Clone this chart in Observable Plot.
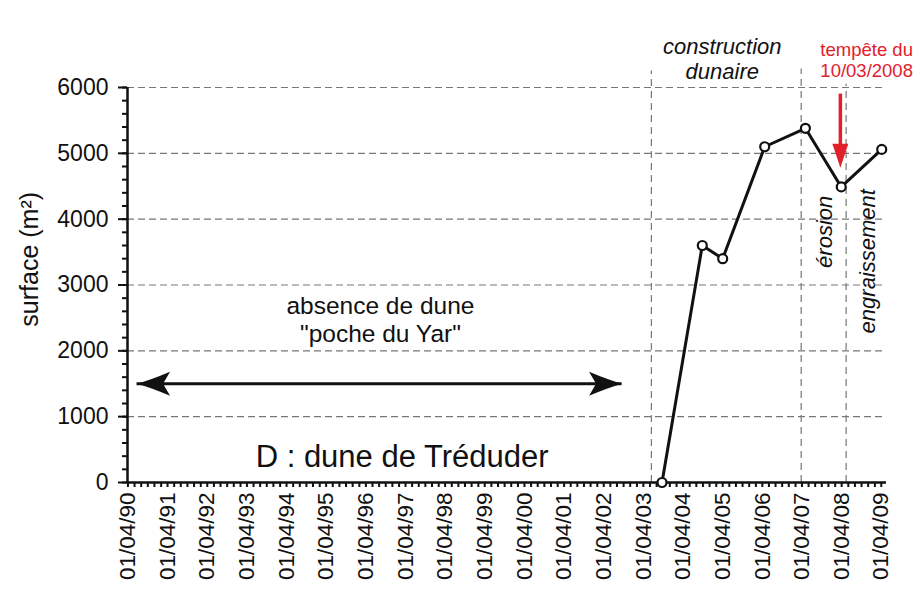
<!DOCTYPE html>
<html><head><meta charset="utf-8">
<script src="https://cdn.jsdelivr.net/npm/d3@7"></script>
<script src="https://cdn.jsdelivr.net/npm/@observablehq/plot@0.6"></script>
<style>body{margin:0;background:#fff} #chart{width:922px;height:591px}</style>
</head><body><div id="chart"></div>
<script>
// --- data ---
const surveyDates = ["2003-09-20","2004-09-25","2005-04-01","2006-04-23","2007-05-03","2008-03-28","2009-04-05"];
const surfaces = [0, 3600, 3400, 5100, 5380, 4490, 5060];

const tickLabels = ["01/04/90","01/04/91","01/04/92","01/04/93","01/04/94","01/04/95","01/04/96","01/04/97","01/04/98","01/04/99",
  "01/04/00","01/04/01","01/04/02","01/04/03","01/04/04","01/04/05","01/04/06","01/04/07","01/04/08","01/04/09"];
const yTicks = [0, 1000, 2000, 3000, 4000, 5000, 6000];
const gridValues = [1000, 2000, 3000, 4000, 5000, 6000];

const eventDates = ["2003-06-14","2007-03-25","2008-05-12"];
const eventTops = [6250, 6280, 6050];

const absenceStart = "1990-06-24", absenceEnd = "2002-09-17", absenceValue = 1500;
const stormDate = "2008-03-20", stormFrom = 5900, stormTo = 4781;

const notes = [
  {text: "construction\ndunaire", date: "2005-03-28", value: 6128, italic: true, size: 22, lh: 1.14, color: "#111"},
  {text: "tempête du\n10/03/2008", date: "2008-11-17", value: 6152, italic: false, size: 18.5, lh: 1.17, color: "#e2202c"},
  {text: "absence de dune\n\"poche du Yar\"", date: "1996-08-13", value: 2127, italic: false, size: 24.5, lh: 1.17, color: "#111"},
  {text: "D : dune de Tréduder", date: "1997-03-01", value: 228, italic: false, size: 31, lh: 1, color: "#111"}
];
const vnotes = [
  {text: "érosion", date: "2008-01-04", value: 3808},
  {text: "engraissement", date: "2009-02-06", value: 3361}
];

// --- build ---
const parse = d3.utcParse("%Y-%m-%d");
const data = surveyDates.map((d, i) => ({date: parse(d), surface: surfaces[i]}));
const tickDates = tickLabels.map(s => {
  const [dd, mm, yy] = s.split("/").map(Number);
  return new Date(Date.UTC((yy < 50 ? 2000 : 1900) + yy, mm - 1, dd));
});
const labelOf = new Map(tickDates.map((d, i) => [+d, tickLabels[i]]));
const minorX = d3.utcMonth.range(tickDates[0], d3.utcDay.offset(tickDates[tickDates.length - 1], 1), 2);
const minorY = d3.range(0, 6001, 200);
const xStart = parse("1990-03-28"), xEnd = parse("2009-05-19");
const events = eventDates.map((d, i) => ({date: parse(d), top: eventTops[i]}));
const noteData = notes.map(n => ({...n, date: parse(n.date)}));
const vnoteData = vnotes.map(n => ({...n, date: parse(n.date)}));

const barbed = {draw(ctx) {
  ctx.moveTo(0, 0);
  ctx.quadraticCurveTo(-14, -4, -33, -12);
  ctx.lineTo(-26, 0);
  ctx.lineTo(-33, 12);
  ctx.quadraticCurveTo(-14, 4, 0, 0);
  ctx.closePath();
}};
const triangle = {draw(ctx) {
  ctx.moveTo(0, 0);
  ctx.lineTo(-24, -8);
  ctx.lineTo(-24, 8);
  ctx.closePath();
}};

const font = "'Liberation Sans', Arial, Helvetica, sans-serif";
const chart = Plot.plot({
  width: 922, height: 591,
  marginLeft: 127, marginRight: 36, marginTop: 87, marginBottom: 109,
  style: {fontFamily: font, fontSize: "22px", color: "#111", background: "#fff"},
  x: {type: "utc", domain: [xStart, xEnd], label: null},
  y: {domain: [0, 6000], label: null},
  marks: [
    Plot.ruleY(gridValues, {stroke: "#777", strokeWidth: 1.2, strokeDasharray: "7,4"}),
    Plot.ruleX(events, {x: "date", y1: 0, y2: "top", stroke: "#777", strokeWidth: 1.2, strokeDasharray: "7,5"}),
    Plot.axisY({ticks: minorY, tickSize: 5, tickFormat: () => "", strokeWidth: 2, stroke: "#111", label: null}),
    Plot.axisY({ticks: yTicks, tickSize: 9, tickPadding: 10, strokeWidth: 2, stroke: "#111", fontSize: 23, label: null, tickFormat: d => String(d)}),
    Plot.axisX({ticks: minorX, tickSize: 5, tickFormat: () => "", strokeWidth: 2, stroke: "#111", label: null}),
    Plot.axisX({ticks: tickDates, tickSize: 0, tickPadding: 10, tickRotate: -90, fontSize: 22.5, label: null, tickFormat: d => labelOf.get(+d)}),
    Plot.ruleY([0], {stroke: "#111", strokeWidth: 2.5}),
    Plot.ruleX([xStart], {y1: 0, y2: 6000, stroke: "#111", strokeWidth: 2.5}),
    Plot.text(["surface (m²)"], {x: xStart, y: 3390, dx: -97.5, rotate: -90, fontSize: 25, textAnchor: "middle", lineAnchor: "middle", fill: "#111"}),
    // horizontal double arrow
    Plot.ruleY([absenceValue], {x1: parse(absenceStart), x2: parse(absenceEnd), stroke: "#111", strokeWidth: 3}),
    Plot.dot([{d: parse(absenceStart), r: 180}, {d: parse(absenceEnd), r: 0}], {x: "d", y: absenceValue, rotate: "r", symbol: barbed, fill: "#111", stroke: "none"}),
    // storm arrow
    Plot.ruleX([parse(stormDate)], {y1: stormFrom, y2: stormTo + 250, stroke: "#e2202c", strokeWidth: 3.5}),
    Plot.dot([parse(stormDate)], {x: d => d, y: stormTo, rotate: 90, symbol: triangle, fill: "#e2202c", stroke: "none"}),
    // series
    Plot.line(data, {x: "date", y: "surface", stroke: "#111", strokeWidth: 3, strokeLinejoin: "miter"}),
    Plot.dot(data, {x: "date", y: "surface", r: 4.5, fill: "#fff", stroke: "#111", strokeWidth: 2.2}),
    // notes
    ...noteData.map(n => Plot.text([n], {x: "date", y: "value", text: "text", fontSize: n.size, lineHeight: n.lh, lineAnchor: "bottom", textAnchor: "middle", fill: n.color, fontStyle: n.italic ? "italic" : "normal"})),
    Plot.text(vnoteData, {x: "date", y: "value", text: "text", rotate: -90, fontSize: 22, fontStyle: "italic", textAnchor: "middle", lineAnchor: "bottom", fill: "#111"})
  ]
});
document.getElementById("chart").appendChild(chart);
</script>
</body></html>
